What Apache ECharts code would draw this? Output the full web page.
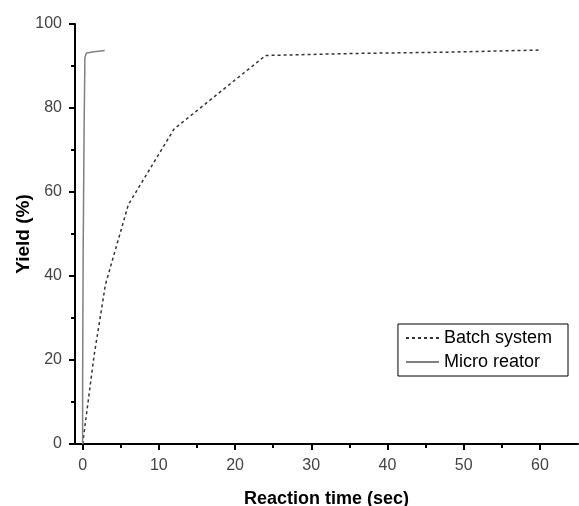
<!DOCTYPE html>
<html>
<head>
<meta charset="utf-8">
<script src="https://cdn.jsdelivr.net/npm/echarts@6/dist/echarts.min.js"></script>
<style>
  html, body { margin: 0; padding: 0; background: #fff; }
  #chart { width: 579px; height: 506px; }
</style>
</head>
<body>
<div id="chart"></div>
<script>
// data
var batchTime = [0, 1.5, 3, 6, 12, 24, 36, 48, 60];
var batchYield = [0, 21, 38, 57, 75, 92.5, 93, 93.3, 93.8];
var microTime = [0, 0.0, 0.07, 0.2, 0.3, 0.5, 1.5, 2.9];
var microYield = [0, 14.8, 45.5, 76, 92, 93.1, 93.4, 93.7];
var xMajor = [0, 10, 20, 30, 40, 50, 60];
var xMinor = [5, 15, 25, 35, 45, 55];
var yTicks = [0, 20, 40, 60, 80, 100];

function pairs(xs, ys) {
    var out = [];
    for (var i = 0; i < xs.length; i++) out.push([xs[i], ys[i]]);
    return out;
}

var chart = echarts.init(document.getElementById('chart'));

var labelFont = {
    fontFamily: 'Arial, sans-serif',
    fontSize: 16,
    color: '#444'
};

var option = {
    animation: false,
    grid: { left: 75, right: 1, top: 24, bottom: 62, outerBoundsMode: 'none', containLabel: false },
    legend: {
        orient: 'vertical',
        right: 11,
        top: 324,
        backgroundColor: '#fff',
        borderColor: '#000',
        borderWidth: 1,
        borderRadius: 0,
        padding: [5, 16, 5, 7],
        itemWidth: 33,
        itemHeight: 14,
        itemGap: 6,
        itemStyle: { opacity: 0 },
        textStyle: { fontFamily: 'Arial, sans-serif', fontSize: 18, color: '#000' },
        data: ['Batch system', 'Micro reator']
    },
    xAxis: [
        {
            type: 'value',
            min: -1,
            max: 65,
            name: 'Reaction time (sec)',
            nameLocation: 'middle',
            nameGap: 46,
            nameTextStyle: { fontFamily: 'Arial, sans-serif', fontSize: 18, fontWeight: 'bold', color: '#000' },
            axisLine: { onZero: false, lineStyle: { color: '#000', width: 2 } },
            axisTick: { customValues: xMajor, length: 6, lineStyle: { color: '#000', width: 2 } },
            axisLabel: Object.assign({ customValues: xMajor, margin: 14 }, labelFont),
            splitLine: { show: false }
        },
        {
            type: 'value',
            min: -1,
            max: 65,
            position: 'bottom',
            axisLine: { show: false, onZero: false },
            axisTick: { customValues: xMinor, length: 4, lineStyle: { color: '#000', width: 2 } },
            axisLabel: { show: false },
            splitLine: { show: false }
        }
    ],
    yAxis: {
        type: 'value',
        min: 0,
        max: 100,
        interval: 20,
        name: 'Yield (%)',
        nameLocation: 'middle',
        nameGap: 42,
        nameMoveOverlap: false,
        nameTextStyle: { fontFamily: 'Arial, sans-serif', fontSize: 19, fontWeight: 'bold', color: '#000' },
        axisLine: { show: true, onZero: false, lineStyle: { color: '#000', width: 2 } },
        axisTick: { show: true, length: 6, lineStyle: { color: '#000', width: 2 } },
        minorTick: { show: true, splitNumber: 2, length: 4, lineStyle: { color: '#000', width: 2 } },
        axisLabel: Object.assign({ margin: 13, customValues: yTicks }, labelFont),
        splitLine: { show: false }
    },
    series: [
        {
            name: 'Batch system',
            type: 'line',
            symbol: 'none',
            data: pairs(batchTime, batchYield),
            lineStyle: { color: '#333', width: 1.5, type: [3, 3] },
            itemStyle: { color: '#333' }
        },
        {
            name: 'Micro reator',
            type: 'line',
            symbol: 'none',
            data: pairs(microTime, microYield),
            lineStyle: { color: '#808080', width: 1.5 },
            itemStyle: { color: '#333' }
        }
    ]
};

chart.setOption(option);
</script>
</body>
</html>
